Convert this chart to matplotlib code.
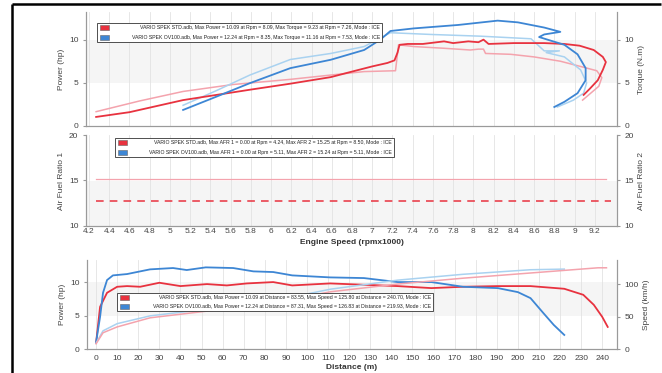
import numpy as np
import matplotlib.pyplot as plt
from matplotlib.patches import Rectangle
from matplotlib.lines import Line2D

plt.rcParams['font.family'] = ['Liberation Sans', 'DejaVu Sans']

# ---- top panel: power / torque vs rpm (x1000) ----
std_pwr_rpm = [4.27, 4.6, 5.13, 5.79, 6.19, 6.59, 6.8, 7.0, 7.15, 7.22, 7.25, 7.27, 7.35, 7.5, 7.71, 7.8,
               7.95, 8.05, 8.1, 8.15, 8.4, 8.7, 8.9, 9.05, 9.19, 9.28, 9.31, 9.28, 9.23, 9.15, 9.09]
std_pwr = [1.05, 1.6, 3.0, 4.2, 4.9, 5.66, 6.3, 6.9, 7.3, 7.6, 8.5, 9.4, 9.5, 9.5, 9.8, 9.6,
           9.8, 9.7, 10.0, 9.5, 9.6, 9.6, 9.5, 9.3, 8.8, 8.0, 7.4, 6.5, 5.3, 4.3, 3.6]
std_trq_rpm = [4.27, 4.7, 5.13, 5.62, 6.19, 6.59, 6.92, 7.23, 7.26, 7.41, 7.71, 7.97, 8.05, 8.1, 8.12,
               8.37, 8.6, 8.86, 9.09, 9.22, 9.27, 9.24, 9.16, 9.08]
std_trq = [1.66, 2.9, 4.0, 4.8, 5.4, 5.9, 6.3, 6.4, 9.4, 9.2, 9.0, 8.8, 8.9, 8.9, 8.4,
           8.3, 8.0, 7.5, 6.8, 6.4, 5.6, 4.6, 3.8, 3.0]
ov_pwr_rpm = [5.13, 5.46, 5.79, 6.19, 6.59, 6.92, 7.08, 7.18, 7.41, 7.85, 8.24, 8.44, 8.7, 8.86,
              8.7, 8.65, 8.76, 8.9, 9.03, 9.11, 9.11, 9.03, 8.9, 8.8]
ov_pwr = [1.86, 3.4, 4.96, 6.7, 7.67, 8.8, 10.0, 11.0, 11.3, 11.7, 12.2, 12.0, 11.4, 10.9,
          10.6, 10.3, 9.9, 9.4, 8.3, 6.7, 5.3, 3.8, 2.8, 2.2]
ov_trq_rpm = [5.13, 5.46, 5.79, 6.19, 6.59, 6.92, 7.18, 7.58, 8.07, 8.57, 8.7, 8.85, 8.72, 8.9,
              9.06, 9.12, 9.09, 8.99, 8.83]
ov_trq = [2.4, 4.1, 5.9, 7.7, 8.4, 9.2, 10.8, 10.6, 10.4, 10.1, 8.7, 8.7, 8.5, 8.0,
          6.5, 5.0, 3.8, 3.0, 2.2]

# ---- middle panel: AFR ----
afr_rpm = [4.27, 9.31]
std_afr2 = [15.2, 15.2]
afr_dash_rpm = [4.27, 9.36]
std_afr_dash = [12.7, 12.7]

# ---- bottom panel: power / speed vs distance ----
ov_dist = [0, 1.9, 3.3, 5.2, 8, 14.7, 20.9, 25.6, 36.5, 43, 52, 65, 74.6, 84, 93, 111,
           127, 143, 159, 174, 190.5, 200, 206, 212, 217, 222]
ov_dpwr = [1.0, 4.8, 8.4, 10.3, 11.0, 11.2, 11.6, 11.9, 12.1, 11.8, 12.2, 12.1, 11.6, 11.5, 11.0, 10.7,
           10.6, 10.0, 10.0, 9.3, 9.1, 8.5, 7.6, 5.4, 3.6, 2.1]
std_dist = [0, 1.9, 5.2, 10, 14.7, 20.9, 30, 40, 52.6, 62, 71.5, 84, 93, 111,
            127, 143, 159, 174, 190.5, 206, 222, 231, 236, 240, 242.6]
std_dpwr = [0.9, 6.3, 8.4, 9.3, 9.4, 9.3, 9.9, 9.4, 9.7, 9.5, 9.8, 10.0, 9.5, 9.8,
            9.6, 9.4, 9.1, 9.3, 9.4, 9.4, 9.0, 8.1, 6.6, 4.8, 3.3]
ov_spd_dist = [0, 3.3, 10, 25.6, 49, 81, 111, 143, 174, 206, 222]
ov_spd = [9, 28, 39, 51, 60, 72, 92, 106, 115, 122, 123]
std_spd_dist = [0, 3.3, 10, 25.6, 49, 81, 111, 143, 174, 206, 238, 242]
std_spd = [8, 25, 34, 48, 57, 69, 88, 100, 109, 117, 125, 125]

rpm_ticks = np.round(np.arange(4.2, 9.21, 0.2), 1)
rpm_labels = [('%g' % t) for t in rpm_ticks]
dist_ticks = list(range(0, 241, 10))

red = '#e8323f'
pink = '#f4a3ad'
blue = '#3d86d4'
lblue = '#a9d2f0'
grid_c = '#e3e3e3'
band_c = '#f5f5f5'
txt_c = '#444444'

W, H = 662, 373
fig = plt.figure(figsize=(W / 100, H / 100), dpi=100)


def px(x0, y0, w, h):
    return [x0 / W, 1 - (y0 + h) / H, w / W, h / H]


def style(ax, xt=None, xl=None, ylab='', band=None, xpad=2):
    if band is not None:
        ax.axhspan(band[0], band[1], color=band_c, zorder=0, lw=0)
    if xt is not None:
        ax.set_xticks(xt)
        if xl is None:
            ax.set_xticklabels([])
        else:
            ax.set_xticklabels(xl)
        ax.tick_params(axis='x', length=0, pad=xpad)
        ax.grid(axis='x', color=grid_c, lw=0.6)
        ax.set_axisbelow(True)
    ax.spines['top'].set_visible(False)
    for s in ['left', 'right', 'bottom']:
        ax.spines[s].set_color('#9a9a9a')
        ax.spines[s].set_linewidth(0.8)
    ax.tick_params(labelsize=6, colors=txt_c)
    ax.tick_params(axis='y', length=2, color='#9a9a9a', pad=3.5)
    ax.set_ylabel(ylab, fontsize=6, color=txt_c, labelpad=3)


def legend_box(x0, y0, x1, y1, texts, colors):
    fig.add_artist(Rectangle((x0 / W, 1 - y1 / H), (x1 - x0) / W, (y1 - y0) / H,
                             transform=fig.transFigure, facecolor='white',
                             edgecolor='#333333', lw=0.6, zorder=5))
    rh = (y1 - y0) / 2
    for i, (t, c) in enumerate(zip(texts, colors)):
        yc = y0 + rh * (i + 0.5)
        fig.add_artist(Rectangle(((x0 + 3) / W, 1 - (yc + 2.5) / H), 9 / W, 5 / H,
                                 transform=fig.transFigure, facecolor=c,
                                 edgecolor='#666666', lw=0.4, zorder=6))
        fig.text((x1 - 2) / W, 1 - yc / H, t, ha='right', va='center',
                 fontsize=3.7, color='#222222', zorder=6)


# top panel
ax1 = fig.add_axes(px(86, 12, 531, 114))
ax1.plot(std_trq_rpm, std_trq, color=pink, lw=1.1)
ax1.plot(ov_trq_rpm, ov_trq, color=lblue, lw=1.1)
ax1.plot(std_pwr_rpm, std_pwr, color=red, lw=1.3)
ax1.plot(ov_pwr_rpm, ov_pwr, color=blue, lw=1.3)
ax1.set_xlim(4.17, 9.42)
ax1.set_ylim(0, 13.2)
ax1.set_yticks([0, 5, 10])
style(ax1, rpm_ticks, ylab='Power (hp)', band=(5, 10))
ax1r = ax1.twinx()
ax1r.set_ylim(0, 13.2)
ax1r.set_yticks([0, 5, 10])
style(ax1r, ylab='Torque (N.m)')

# middle panel
ax2 = fig.add_axes(px(86, 135, 531, 91))
ax2.plot(afr_rpm, std_afr2, color=pink, lw=0.9)
ax2.plot(afr_dash_rpm, std_afr_dash, color=red, lw=1.1, dashes=(5, 4))
ax2.set_xlim(4.17, 9.42)
ax2.set_ylim(10, 20)
ax2.set_yticks([10, 15, 20])
style(ax2, rpm_ticks, rpm_labels, ylab='Air Fuel Ratio 1', band=(10, 15), xpad=1.5)
ax2.set_xlabel('Engine Speed (rpmx1000)', fontsize=6, color='#333333',
               fontweight='bold', labelpad=3)
ax2r = ax2.twinx()
ax2r.set_ylim(10, 20)
ax2r.set_yticks([10, 15, 20])
style(ax2r, ylab='Air Fuel Ratio 2')

# bottom panel
ax3 = fig.add_axes(px(87, 260, 530, 89))
ax3.plot(std_dist, std_dpwr, color=red, lw=1.3)
ax3.plot(ov_dist, ov_dpwr, color=blue, lw=1.3)
ax3.set_xlim(-4.3, 247)
ax3.set_ylim(0, 13.3)
ax3.set_yticks([0, 5, 10])
style(ax3, dist_ticks, [str(d) for d in dist_ticks], ylab='Power (hp)', band=(5, 10), xpad=4)
ax3.set_xlabel('Distance (m)', fontsize=6, color='#333333', fontweight='bold', labelpad=2)
ax3r = ax3.twinx()
ax3r.plot(ov_spd_dist, ov_spd, color=lblue, lw=1.1)
ax3r.plot(std_spd_dist, std_spd, color=pink, lw=1.1)
ax3r.set_ylim(0, 137)
ax3r.set_yticks([0, 50, 100])
style(ax3r, ylab='Speed (km/h)')

legend_box(97, 23, 382, 42,
           ['VARIO SPEK STD.adb, Max Power = 10.09 at Rpm = 8.09, Max Torque = 9.23 at Rpm = 7.26, Mode : ICE',
            'VARIO SPEK OV100.adb, Max Power = 12.24 at Rpm = 8.35, Max Torque = 11.16 at Rpm = 7.53, Mode : ICE'],
           [red, blue])
legend_box(115, 138, 394, 157,
           ['VARIO SPEK STD.adb, Max AFR 1 = 0.00 at Rpm = 4.24, Max AFR 2 = 15.25 at Rpm = 8.50, Mode : ICE',
            'VARIO SPEK OV100.adb, Max AFR 1 = 0.00 at Rpm = 5.11, Max AFR 2 = 15.24 at Rpm = 5.11, Mode : ICE'],
           [red, blue])
legend_box(117, 293, 433, 311,
           ['VARIO SPEK STD.adb, Max Power = 10.09 at Distance = 83.55, Max Speed = 125.80 at Distance = 240.70, Mode : ICE',
            'VARIO SPEK OV100.adb, Max Power = 12.24 at Distance = 87.31, Max Speed = 126.83 at Distance = 219.93, Mode : ICE'],
           [red, blue])

# photo frame edges
fig.add_artist(Line2D([12 / W, 661 / W], [1 - 3.5 / H, 1 - 3.5 / H], color='black', lw=1.8,
                      solid_capstyle='butt'))
fig.add_artist(Line2D([12 / W, 12 / W], [0, 1 - 3.5 / H], color='black', lw=1.8,
                      solid_capstyle='butt'))

fig.savefig('out.png', dpi=100)
